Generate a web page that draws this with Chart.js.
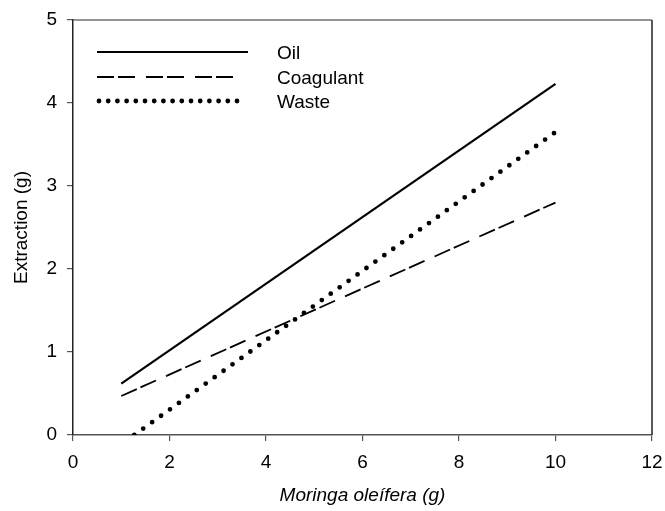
<!DOCTYPE html>
<html>
<head>
<meta charset="utf-8">
<script src="https://cdn.jsdelivr.net/npm/chart.js@4.4.1/dist/chart.umd.min.js"></script>
<style>
html,body{margin:0;padding:0;background:#fff;}
#wrap{width:665px;height:511px;}
</style>
</head>
<body>
<div id="wrap"><canvas id="c" width="665" height="511"></canvas></div>
<script>
const seriesNames = ['Oil', 'Coagulant', 'Waste'];
const oilX = [1, 10];
const oilY = [0.62, 4.23];
const coagulantX = [1, 10];
const coagulantY = [0.47, 2.80];
const wasteX = [1.27, 10];
const wasteY = [0, 3.65];
const xTicks = [0, 2, 4, 6, 8, 10, 12];
const yTicks = [0, 1, 2, 3, 4, 5];
const xTitle = 'Moringa oleífera (g)';
const yTitle = 'Extraction (g)';

const FONT = "'Liberation Sans', Arial, sans-serif";
const pts = (xs, ys) => xs.map((x, i) => ({x, y: ys[i]}));

const styles = [
  {borderColor: '#000', borderWidth: 2.2, borderDash: [], borderCapStyle: 'butt', legendLen: 151, legendDash: []},
  {borderColor: '#000', borderWidth: 1.8, borderDash: [17, 4, 17, 11], borderCapStyle: 'butt', legendLen: 140, legendDash: [17, 4, 17, 11]},
  {borderColor: '#000', borderWidth: 4.8, borderDash: [0, 11], borderCapStyle: 'round', legendLen: 147, legendDash: [0, 9.2]}
];
const dataSets = [pts(oilX, oilY), pts(coagulantX, coagulantY), pts(wasteX, wasteY)];

const legendPlugin = {
  id: 'customLegend',
  afterDatasetsDraw(chart) {
    const ctx = chart.ctx;
    const ys = [52, 77, 101];
    ctx.save();
    chart.data.datasets.forEach((ds, i) => {
      const st = styles[i];
      ctx.beginPath();
      ctx.setLineDash(st.legendDash);
      ctx.lineWidth = st.borderWidth;
      ctx.lineCap = st.borderCapStyle;
      ctx.strokeStyle = st.borderColor;
      const x0 = i === 2 ? 99 : 97;
      ctx.moveTo(x0, ys[i]);
      ctx.lineTo(97 + st.legendLen, ys[i]);
      ctx.stroke();
      ctx.setLineDash([]);
      ctx.fillStyle = '#000';
      ctx.font = '19px ' + FONT;
      ctx.textBaseline = 'middle';
      ctx.textAlign = 'left';
      ctx.fillText(ds.label, 277, ys[i] + 2);
    });
    ctx.restore();
  }
};

const boxPlugin = {
  id: 'frameBox',
  afterDraw(chart) {
    const a = chart.chartArea;
    const ctx = chart.ctx;
    ctx.save();
    ctx.lineWidth = 1.5;
    ctx.strokeStyle = '#707070';
    ctx.beginPath();
    ctx.moveTo(a.left, a.top);
    ctx.lineTo(a.right, a.top);
    ctx.stroke();
    ctx.strokeStyle = '#222';
    ctx.beginPath();
    ctx.moveTo(a.right, a.top);
    ctx.lineTo(a.right, a.bottom);
    ctx.stroke();
    ctx.restore();
  }
};

new Chart(document.getElementById('c'), {
  type: 'line',
  data: {
    datasets: dataSets.map((d, i) => ({
      label: seriesNames[i],
      data: d,
      borderColor: styles[i].borderColor,
      borderWidth: styles[i].borderWidth,
      borderDash: styles[i].borderDash,
      borderCapStyle: styles[i].borderCapStyle,
      pointRadius: 0,
      fill: false,
      tension: 0
    }))
  },
  options: {
    responsive: false,
    animation: false,
    devicePixelRatio: 1,
    layout: {padding: {top: 20, right: 13, left: 0, bottom: 0}},
    plugins: {legend: {display: false}, tooltip: {enabled: false}},
    scales: {
      x: {
        type: 'linear',
        min: 0, max: 12,
        afterFit(s) { s.height = 76; s.paddingLeft = 0; s.paddingRight = 0; },
        afterBuildTicks(s) { s.ticks = xTicks.map(v => ({value: v})); },
        grid: {display: true, drawOnChartArea: false, drawTicks: true, tickLength: 6, color: '#555', lineWidth: 1.2},
        border: {display: true, color: '#555', width: 1.5},
        ticks: {color: '#000', font: {family: FONT, size: 19}, padding: 10, maxRotation: 0},
        title: {display: true, text: xTitle, color: '#000', font: {family: FONT, size: 19, style: 'italic'}, padding: {top: 0, bottom: 4}}
      },
      y: {
        type: 'linear',
        min: 0, max: 5,
        afterFit(s) { s.width = 73; s.paddingTop = 0; s.paddingBottom = 0; },
        afterBuildTicks(s) { s.ticks = yTicks.map(v => ({value: v})); },
        grid: {display: true, drawOnChartArea: false, drawTicks: true, tickLength: 6, color: '#555', lineWidth: 1.2},
        border: {display: true, color: '#222', width: 1.5},
        ticks: {color: '#000', font: {family: FONT, size: 19}, padding: 10},
        title: {display: true, text: yTitle, color: '#000', font: {family: FONT, size: 19}, padding: {top: 10, bottom: 0}}
      }
    }
  },
  plugins: [legendPlugin, boxPlugin]
});
</script>
</body>
</html>
